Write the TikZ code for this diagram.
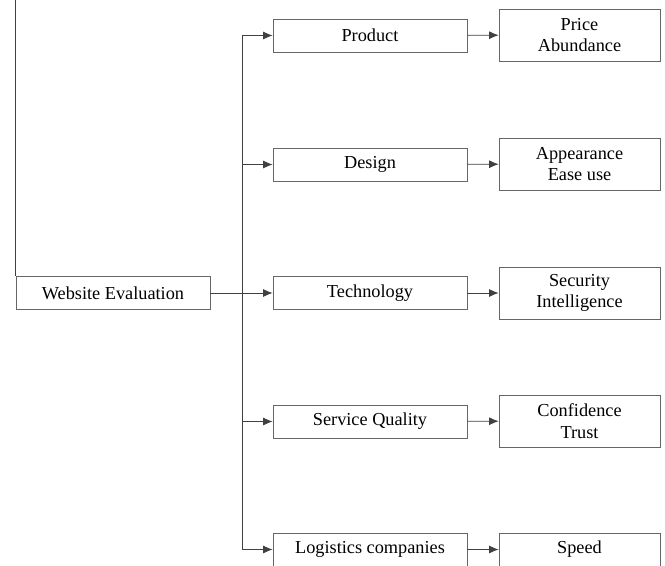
\documentclass[tikz,border=0pt]{standalone}
\usepackage{fontspec}
\setmainfont{Liberation Serif}
\usetikzlibrary{arrows.meta}
\tikzstyle{factor}=[draw=black!60, minimum width=4.85cm, minimum height=0.825cm, inner sep=0pt, font=\fontsize{13}{15.5}\selectfont]
\tikzstyle{item}=[draw=black!60, minimum width=4.025cm, minimum height=1.3cm, inner sep=0pt, align=center, font=\fontsize{13}{15.5}\selectfont]
\tikzstyle{link}=[black!75, semithick]
\tikzstyle{arrow}=[black!75, semithick, -{Latex[length=2.4mm, width=2mm]}]

\begin{document}
\begin{tikzpicture}[x=0.025cm, y=-0.025cm]
    \useasboundingbox (0,0) rectangle (665,566);
    \coordinate (O) at (0,0);
    \coordinate (S) at (242,0);
    \node [factor] (eval) at (113,293) {Website Evaluation};
    \node [factor] (product) at (370,35.5) {Product};
    \node [factor] (design) at (370,164.5) {Design};
    \node [factor] (tech) at (370,293) {Technology};
    \node [factor] (service) at (370,421.5) {Service Quality};
    \node [factor] (logistics) at (370,549.5) {Logistics companies};
    \node [item] (price) at (579.5,35) {Price\\Abundance};
    \node [item] (appear) at (579.5,164) {Appearance\\Ease use};
    \node [item] (secure) at (579.5,293) {Security\\Intelligence};
    \node [item] (trust) at (579.5,421) {Confidence\\Trust};
    \node [item, minimum height=0.825cm] (speed) at (579.5,549.5) {Speed};
    \draw [link] (eval.north west) -- (eval.north west |- O);
    \draw [link] (product.west -| S) -- (logistics.west -| S);
    \draw [arrow] (product.west -| S) -- (product.west);
    \draw [arrow] (design.west -| S) -- (design.west);
    \draw [arrow] (eval.east) -- (tech.west);
    \draw [arrow] (service.west -| S) -- (service.west);
    \draw [arrow] (logistics.west -| S) -- (logistics.west);
    \draw [arrow] (product) -- (price);
    \draw [arrow] (design) -- (appear);
    \draw [arrow] (tech) -- (secure);
    \draw [arrow] (service) -- (trust);
    \draw [arrow] (logistics) -- (speed);
\end{tikzpicture}
\end{document}
